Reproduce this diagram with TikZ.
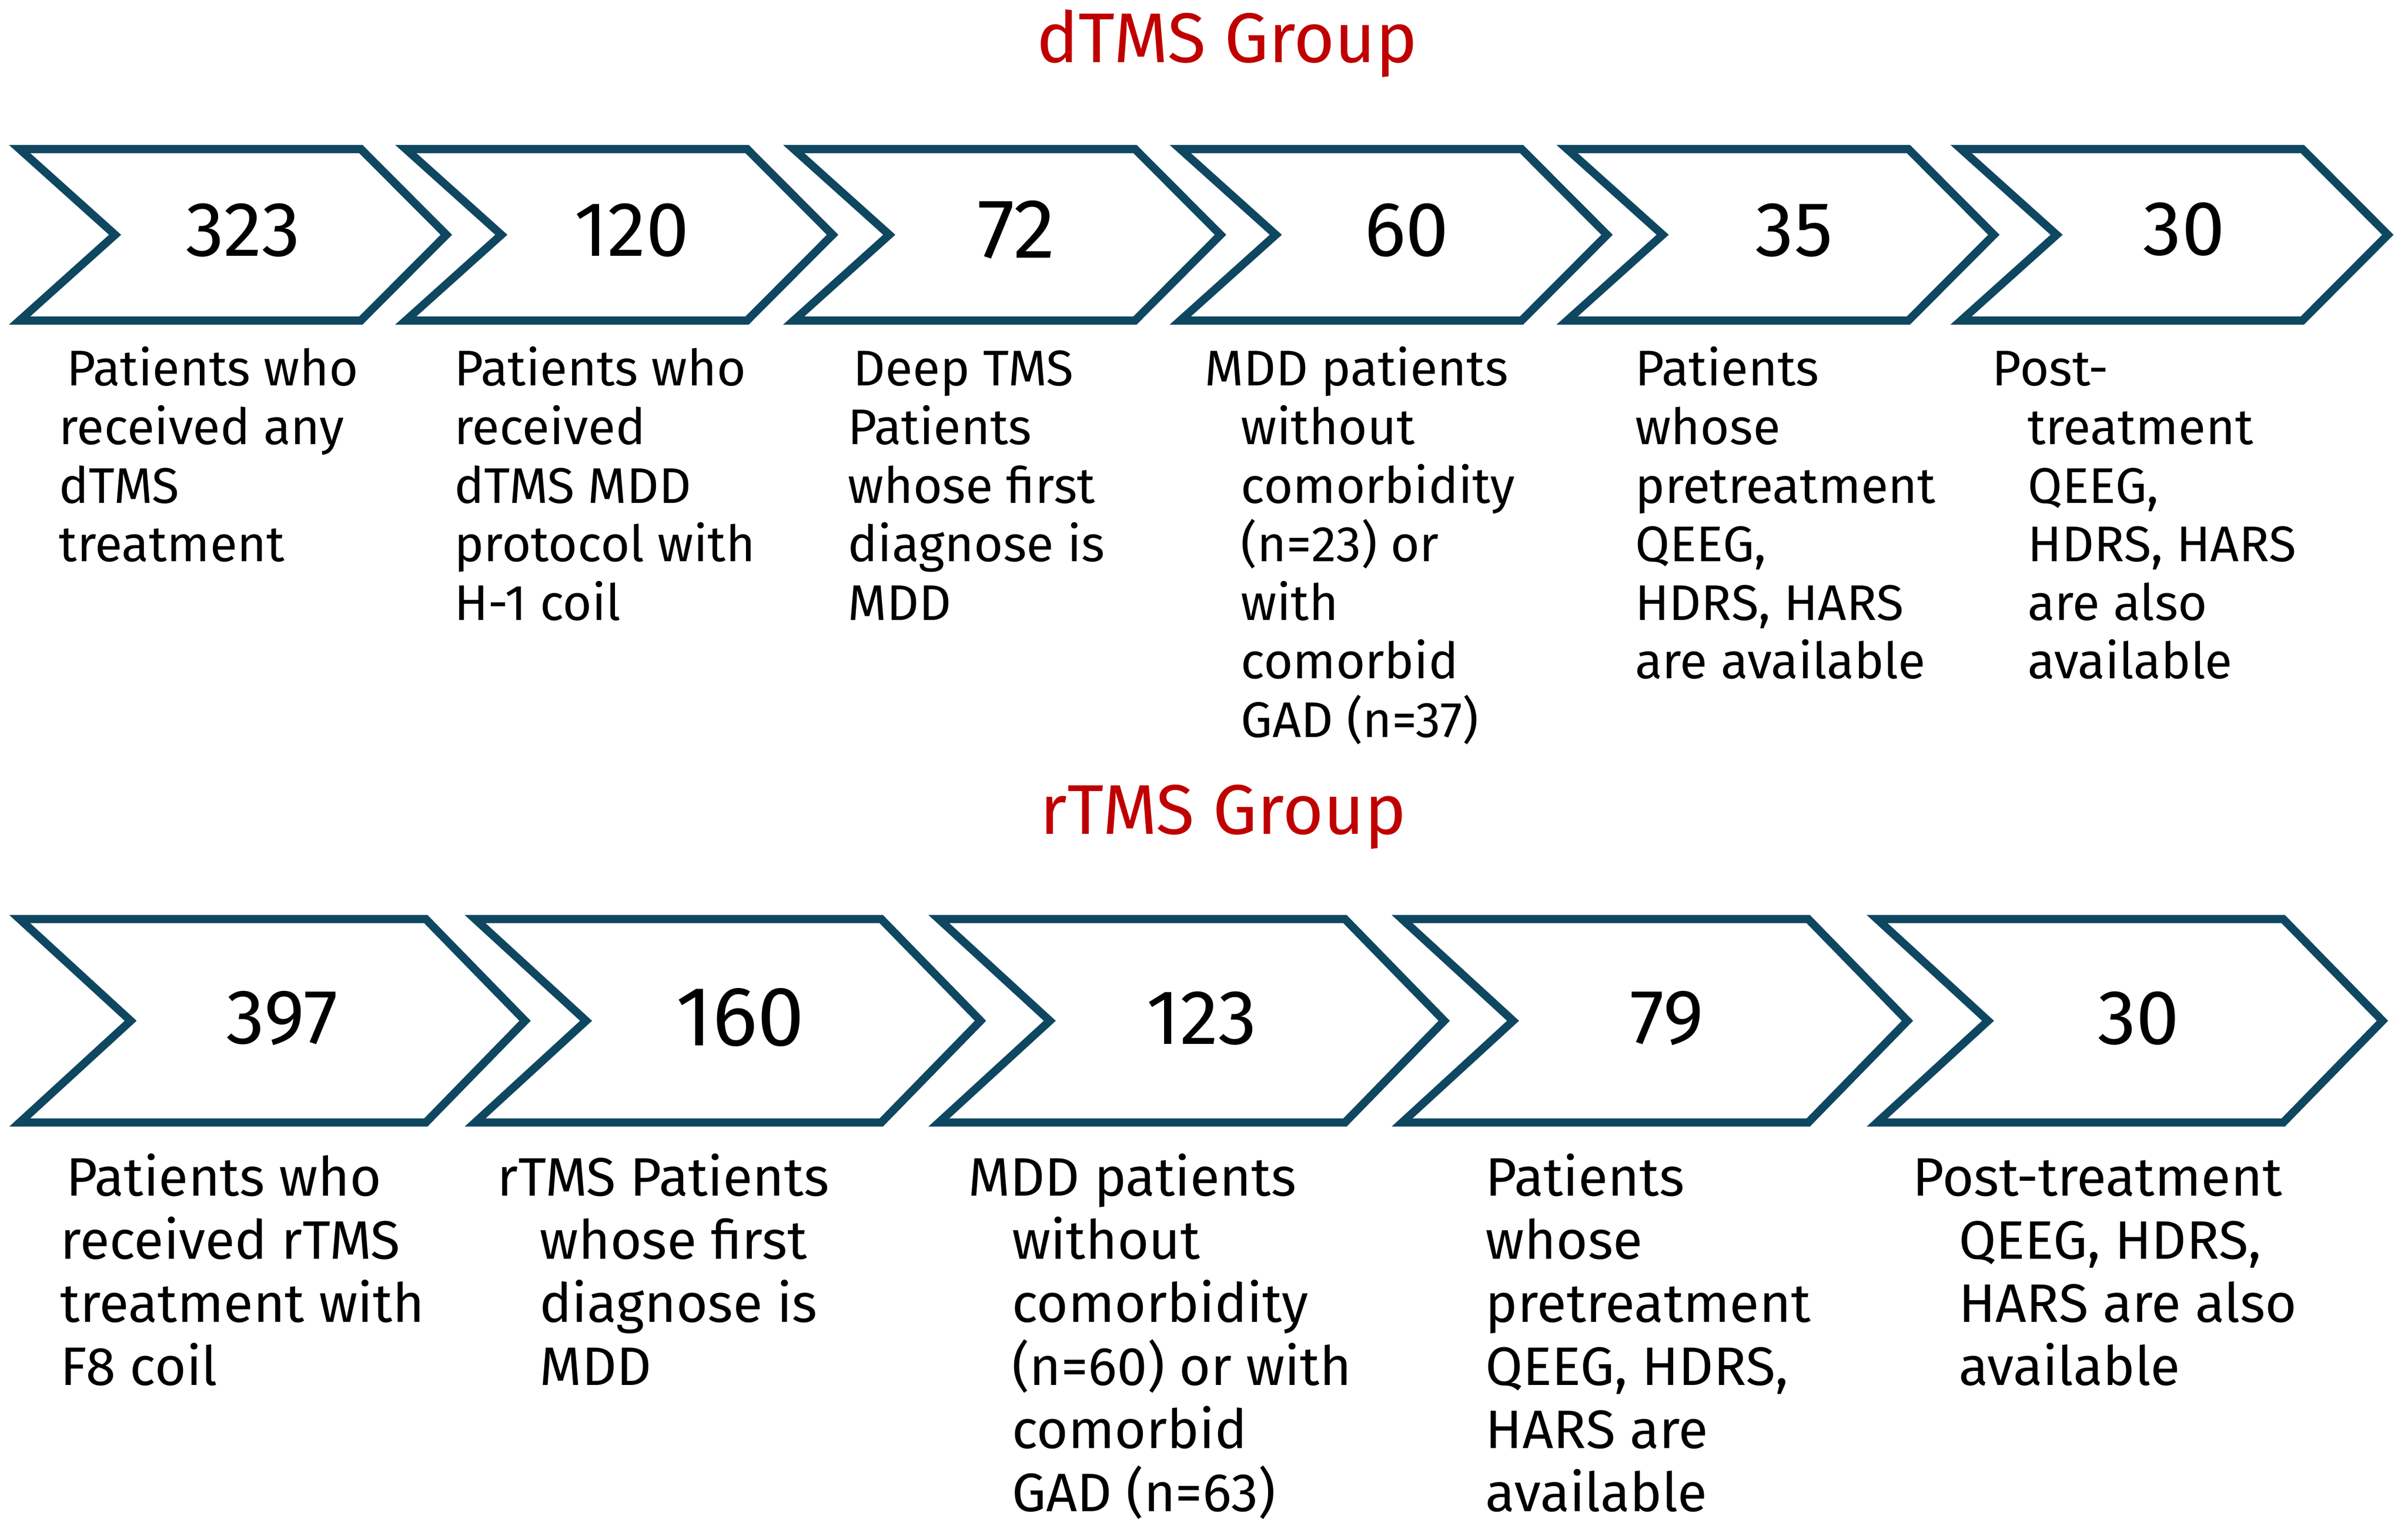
\documentclass[tikz,border=0pt]{standalone}
\usepackage{fontspec}
\setmainfont{Fira Sans}
\usepackage{tikz}
\usepackage{xcolor}
\definecolor{chevblue}{HTML}{0F4761}
\definecolor{grpred}{HTML}{C00000}

\begin{document}
\begin{tikzpicture}[x=0.02cm, y=-0.02cm,
        chev/.style={draw=chevblue, line width=3pt, line join=miter},
        num/.style={inner sep=0pt, font=\fontsize{28.6}{32}\selectfont},
        numbig/.style={inner sep=0pt, font=\fontsize{31.2}{35}\selectfont},
        lbl/.style={anchor=north west, inner sep=0pt, align=left, font=\fontsize{18.5}{21.63}\selectfont},
        lblb/.style={anchor=north west, inner sep=0pt, align=left, font=\fontsize{20}{23.33}\selectfont},
        grp/.style={anchor=base, inner sep=0pt, text=grpred, font=\fontsize{26}{30}\selectfont}]
    \useasboundingbox (0,0) rectangle (1563,991.9);

    % titles
    \node[grp] (dgroup) at (796.5,40.5) {dTMS Group};
    \node[grp] (rgroup) at (794,541.4) {rTMS Group};

    % chevrons
    \foreach \L in {12.7, 263.4, 515.2, 766.1, 1017.2, 1272.9}
        \draw[chev] (\L,96.7) -- ++(221.5,0) -- ++(55.5,55.65) -- ++(-55.5,55.65) -- ++(-221.5,0) -- ++(62,-55.65) -- cycle;
    \foreach \L in {12.8, 308.4, 609.4, 910.1, 1218.4}
        \draw[chev] (\L,596.4) -- ++(263.6,0) -- ++(64.4,66) -- ++(-64.4,66) -- ++(-263.6,0) -- ++(72,-66) -- cycle;

    % dTMS numbers
    \node[num] (d1) at (157.7,149.3) {323};
    \node[num] (d2) at (410,149.3) {120};
    \node[numbig] (d3) at (659.7,149) {72};
    \node[num] (d4) at (913,149.3) {60};
    \node[num] (d5) at (1164.5,149.3) {35};
    \node[num] (d6) at (1417.6,148.7) {30};

    % rTMS numbers
    \node[num] (r1) at (183,660.7) {397};
    \node[numbig] (r2) at (480.5,660.3) {160};
    \node[num] (r3) at (780,660.7) {123};
    \node[num] (r4) at (1082,660.7) {79};
    \node[num] (r5) at (1388,660.7) {30};

    % dTMS labels
    \node[lbl] (dl1) at (38,223.4) {\strut\hspace*{0.1cm}Patients who\\received any\\dTMS\\treatment};
    \node[lbl] (dl2) at (294.5,223.4) {\strut Patients who\\received\\dTMS MDD\\protocol with\\H-1 coil};
    \node[lbl] (dl3) at (550,223.4) {\strut\hspace*{0.07cm}Deep TMS\\Patients\\whose first\\diagnose is\\MDD};
    \node[lbl] (dl4) at (781.6,223.4) {\strut MDD patients\\\hspace*{0.47cm}without\\\hspace*{0.47cm}comorbidity\\\hspace*{0.47cm}(n=23) or\\\hspace*{0.47cm}with\\\hspace*{0.47cm}comorbid\\\hspace*{0.47cm}GAD (n=37)};
    \node[lbl] (dl5) at (1061,223.4) {\strut Patients\\whose\\pretreatment\\QEEG,\\HDRS, HARS\\are available};
    \node[lbl] (dl6) at (1292.8,223.4) {\strut Post-\\\hspace*{0.46cm}treatment\\\hspace*{0.46cm}QEEG,\\\hspace*{0.46cm}HDRS, HARS\\\hspace*{0.46cm}are also\\\hspace*{0.46cm}available};

    % rTMS labels
    \node[lblb] (rl1) at (39,746.9) {\strut\hspace*{0.07cm}Patients who\\received rTMS\\treatment with\\F8 coil};
    \node[lblb] (rl2) at (322.5,746.9) {\strut rTMS Patients\\\hspace*{0.55cm}whose first\\\hspace*{0.55cm}diagnose is\\\hspace*{0.55cm}MDD};
    \node[lblb] (rl3) at (628,746.9) {\strut MDD patients\\\hspace*{0.57cm}without\\\hspace*{0.57cm}comorbidity\\\hspace*{0.57cm}(n=60) or with\\\hspace*{0.57cm}comorbid\\\hspace*{0.57cm}GAD (n=63)};
    \node[lblb] (rl4) at (964,746.9) {\strut Patients\\whose\\pretreatment\\QEEG, HDRS,\\HARS are\\available};
    \node[lblb] (rl5) at (1241,746.9) {\strut Post-treatment\\\hspace*{0.6cm}QEEG, HDRS,\\\hspace*{0.6cm}HARS are also\\\hspace*{0.6cm}available};
\end{tikzpicture}
\end{document}
